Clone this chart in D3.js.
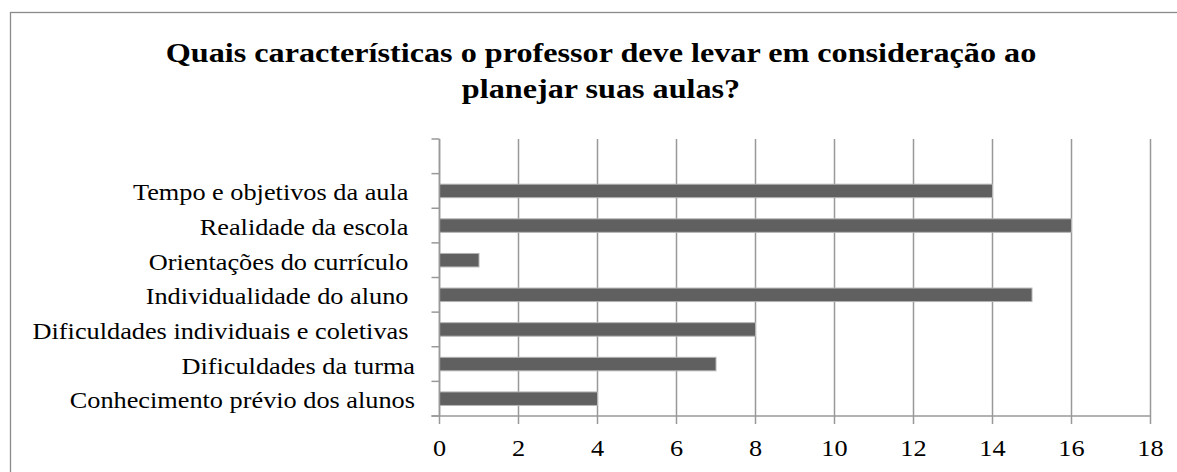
<!DOCTYPE html>
<html><head><meta charset="utf-8">
<script src="https://cdn.jsdelivr.net/npm/d3@7"></script>
<style>
html,body{margin:0;padding:0;background:#fff;}
svg{display:block;}
</style></head>
<body>
<svg id="c" width="1177" height="472"></svg>
<script>
const titleLines = ["Quais características o professor deve levar em consideração ao", "planejar suas aulas?"];
const categories = ["", "Tempo e objetivos da aula ", "Realidade da escola ", "Orientações do currículo ", "Individualidade do aluno ", "Dificuldades individuais e coletivas ", "Dificuldades da turma", "Conhecimento prévio dos alunos"];
const values = [null, 14, 16, 1, 15, 8, 7, 4];
const xTicks = [0, 2, 4, 6, 8, 10, 12, 14, 16, 18];

const FONT = "'Liberation Serif', 'Times New Roman', Tinos, 'DejaVu Serif', serif";
const svg = d3.select("#c");
const pL = 439.5, pR = 1150.5, pT = 139, pB = 416;
const SX = 1.096, SXT = 1.15;

// chart border
svg.append("rect").attr("x", 10.5).attr("y", 12.5).attr("width", 1200).attr("height", 500)
  .attr("fill", "none").attr("stroke", "#8a8a8a").attr("stroke-width", 1.3);

// title
svg.append("g").selectAll("text").data(titleLines).join("text")
  .attr("transform", (d, i) => `translate(601,${62 + i * 36}) scale(${SXT},1)`)
  .attr("text-anchor", "middle").attr("font-size", 28).attr("font-weight", "bold")
  .attr("font-family", FONT).attr("fill", "#000")
  .text(d => d);

const x = d3.scaleLinear().domain([0, 18]).range([pL, pR]);
const y = d3.scaleBand().domain(categories.map((d, i) => i)).range([pT, pB]).paddingInner(0.61).paddingOuter(0.305);
const yb = d3.scaleBand().domain(categories.map((d, i) => i)).range([pT, pB]);

// gridlines
svg.append("g").selectAll("line").data(xTicks).join("line")
  .attr("x1", d => x(d)).attr("x2", d => x(d)).attr("y1", pT).attr("y2", pB + 8)
  .attr("stroke", "#999").attr("stroke-width", 1.5);

// bars
svg.append("g").selectAll("rect").data(values.map((v, i) => ({v, i})).filter(d => d.v != null)).join("rect")
  .attr("x", x(0)).attr("y", d => y(d.i)).attr("width", d => x(d.v) - x(0)).attr("height", y.bandwidth())
  .attr("fill", "#606060").attr("stroke", "#b4b4b4").attr("stroke-width", 1);

// y axis ticks (band boundaries)
const bounds = d3.range(categories.length + 1).map(i => pT + i * yb.step());
svg.append("g").selectAll("line").data(bounds).join("line")
  .attr("x1", pL - 8).attr("x2", pL).attr("y1", d => d).attr("y2", d => d)
  .attr("stroke", "#999").attr("stroke-width", 1.5);
svg.append("line").attr("x1", pL).attr("x2", pL).attr("y1", pT).attr("y2", pB)
  .attr("stroke", "#999").attr("stroke-width", 1.5);
// x axis line
svg.append("line").attr("x1", pL - 8).attr("x2", pR).attr("y1", pB).attr("y2", pB)
  .attr("stroke", "#999").attr("stroke-width", 1.5);

// x tick labels
svg.append("g").selectAll("text").data(xTicks).join("text")
  .attr("transform", d => `translate(${x(d)},455.5) scale(${SX},1)`)
  .attr("text-anchor", "middle").attr("font-size", 24)
  .attr("font-family", FONT).attr("fill", "#000")
  .text(d => d);

// category labels
svg.append("g").selectAll("text").data(categories).join("text")
  .attr("transform", (d, i) => `translate(415,${yb(i) + yb.bandwidth() / 2 + 9.5}) scale(${SX},1)`)
  .attr("text-anchor", "end").attr("font-size", 24).style("white-space", "pre")
  .attr("font-family", FONT).attr("fill", "#000")
  .text(d => d);
</script>
</body></html>
